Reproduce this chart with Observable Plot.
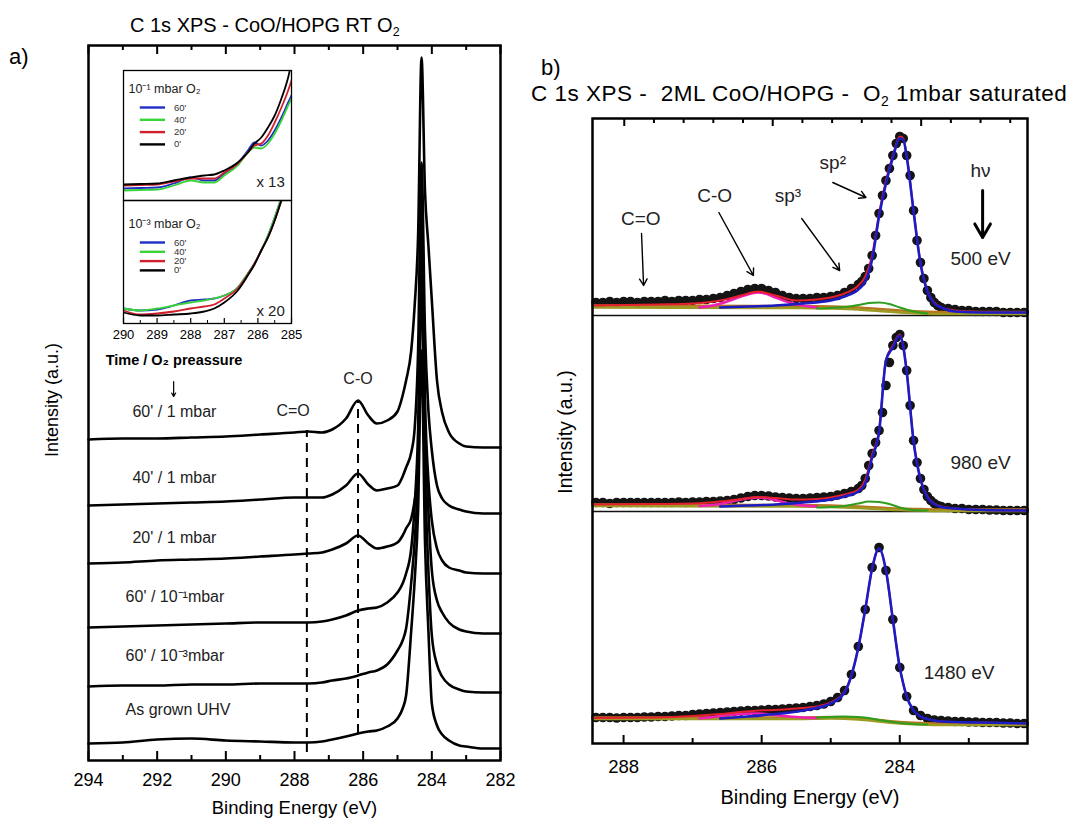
<!DOCTYPE html>
<html><head><meta charset="utf-8">
<script src="https://cdn.jsdelivr.net/npm/d3@7"></script>
<script src="https://cdn.jsdelivr.net/npm/@observablehq/plot@0.6"></script>
<style>
body{margin:0;background:#fff;}
#root{position:relative;width:1072px;height:821px;overflow:hidden;font-family:"Liberation Sans",Arial,Helvetica,sans-serif;color:#000;background:#fff;}
.abs{position:absolute;}
.lbl{position:absolute;white-space:pre;line-height:1;color:#000;}
.rot{position:absolute;white-space:nowrap;line-height:1;transform:translate(-50%,-50%) rotate(-90deg);}
sub{font-size:0.62em;vertical-align:-0.35em;line-height:0;}
</style></head><body><div id="root"></div>
<script>
// ================= DATA =================
// ---- Panel a: C 1s spectra, CoO/HOPG, RT O2 exposure (intensity, a.u.) ----
const energyA = [294, 293, 292, 291, 290, 289, 288, 287.6, 287.2, 286.9,
  286.5, 286.15, 285.85, 285.6, 285.3, 285.0, 284.85, 284.75, 284.6, 284.5,
  284.4, 284.3, 284.2, 284.1, 284.0, 283.85, 283.7, 283.5, 283.2, 283.0,
  282.5, 282.0];
const seriesA = ["60' / 1 mbar", "40' / 1 mbar", "20' / 1 mbar", "60' / 10⁻¹mbar", "60' / 10⁻³mbar", "As grown UHV"];
const a60_1mbar = [321, 322, 322, 323, 324, 326, 328, 329, 328, 331,
  342, 360, 345, 337, 340, 349, 365, 380, 410, 455,
  525, 703, 570, 515, 460, 380, 348, 328, 317, 314,
  313, 313];
const a40_1mbar = [255, 256, 257, 258, 259, 261, 263, 263, 263, 266,
  275, 287, 276, 270, 272, 275, 284, 293, 308, 332,
  410, 598, 430, 350, 310, 275, 262, 255, 251, 249,
  247, 247];
const a20_1mbar = [197, 198, 200, 201, 202, 204, 206, 207, 208, 211,
  217, 225, 217, 212, 214, 218, 225, 232, 242, 260,
  290, 560, 360, 280, 240, 212, 200, 193, 190, 188,
  187, 187];
const a60_1e1mbar = [133, 134, 135, 136, 137, 138, 138, 138, 139, 141,
  145, 150, 152, 153, 158, 168, 177, 187, 212, 255,
  330, 510, 340, 250, 190, 160, 148, 138, 131, 129,
  127, 127];
const a60_1e3mbar = [74, 75, 75, 76, 76, 77, 77, 77, 78, 80,
  82, 85, 88, 90, 96, 110, 120, 132, 178, 220,
  290, 480, 290, 190, 125, 96, 84, 76, 71, 69,
  68, 68];
const aUHV = [17, 18, 21, 22, 20, 19, 18, 18, 19, 21,
  24, 27, 29, 30, 34, 42, 52, 65, 130, 180,
  250, 410, 220, 130, 57, 35, 26, 20, 15, 14,
  12, 12];
const spectraA = [a60_1mbar, a40_1mbar, a20_1mbar, a60_1e1mbar, a60_1e3mbar, aUHV];
const markersA = [{name: "C=O", E: 287.64, lo: 8, hi: 330}, {name: "C-O", E: 286.15, lo: 27, hi: 360}];
const ticksA = [294, 292, 290, 288, 286, 284, 282];
const minorTicksA = [293, 291, 289, 287, 285, 283];

// ---- Inset: 290-285 eV zoom ----
const energyInset = [290, 289.5, 289, 288.5, 288, 287.6, 287.3, 287, 286.6, 286.3, 286.1, 285.9, 285.7, 285.5, 285.3, 285.1, 285.0];
const insetTimes = ["60'", "40'", "20'", "0'"];
const insetColors = ["#1f2ec4", "#39d439", "#d0202e", "#000000"];
// 1e-1 mbar O2 (x 13)
const up60 = [12, 12.5, 13, 17, 23, 20, 20, 27, 37, 50, 58, 55, 60, 70, 83, 98, 105];
const up40 = [10, 10.5, 11, 15, 20, 18, 18, 25, 35, 48, 53, 52, 57, 67, 80, 95, 102];
const up20 = [15, 15.5, 16, 19, 22, 22, 22, 28, 37, 48, 55, 57, 65, 78, 93, 110, 120];
const up0  = [16, 16.5, 17, 20, 23, 25, 26, 30, 38, 48, 57, 63, 73, 85, 102, 123, 138];
// 1e-3 mbar O2 (x 20)
const lo60 = [15, 13, 14, 18, 23, 24, 25, 28, 36, 50, 60, 73, 88, 106, 126, 146, 156];
const lo40 = [15, 13, 15, 18, 21, 23, 25, 28, 36, 50, 60, 73, 88, 106, 126, 146, 156];
const lo20 = [13, 9, 10, 12, 15, 17, 19, 25, 35, 49, 60, 73, 86, 103, 123, 143, 153];
const lo0  = [11, 8, 8, 9, 10, 12, 15, 21, 33, 48, 59, 73, 86, 103, 123, 143, 153];
const insetTicks = [290, 289, 288, 287, 286, 285];
const insetMinor = [289.5, 288.5, 287.5, 286.5, 285.5];

// ---- Panel b: 2ML CoO/HOPG, O2 1 mbar saturated, three photon energies ----
const photonEnergies = ["500 eV", "980 eV", "1480 eV"];
const energyB = [288.4, 288.3, 288.2, 288.1, 288.0, 287.9, 287.8, 287.7, 287.6, 287.5,
  287.4, 287.3, 287.2, 287.1, 287.0, 286.9, 286.8, 286.7, 286.6, 286.5,
  286.4, 286.3, 286.2, 286.1, 286.0, 285.9, 285.8, 285.7, 285.6, 285.5,
  285.4, 285.3, 285.2, 285.1, 285.0, 284.9, 284.8, 284.7, 284.6, 284.55,
  284.5, 284.45, 284.4, 284.35, 284.3, 284.25, 284.2, 284.15, 284.1, 284.05,
  284.0, 283.95, 283.9, 283.85, 283.8, 283.75, 283.7, 283.65, 283.6, 283.55,
  283.5, 283.45, 283.4, 283.3, 283.2, 283.1, 283.0, 282.9, 282.8, 282.7,
  282.6, 282.5, 282.4, 282.3, 282.2];
const b500 = [441, 441, 442, 441, 442, 442, 441, 442, 442, 442,
  443, 442, 443, 443, 443, 444, 444, 445, 446, 448,
  450, 452, 454, 455, 455, 453, 451, 448, 446, 445,
  445, 445, 446, 446, 447, 448, 451, 455, 459, 462,
  467, 475, 488, 508, 530, 548, 563, 575, 588, 600,
  607, 605, 588, 568, 533, 503, 481, 465, 453, 446,
  441, 438, 436, 435, 434, 433, 433, 432, 432, 432,
  432, 431, 431, 431, 431];
const b980 = [241, 241, 240, 241, 241, 241, 241, 241, 241, 241,
  241, 241, 241.5, 241, 241.5, 241.5, 242, 242, 242.5, 243,
  244, 245.5, 247, 248, 248, 247.5, 246.5, 246, 245.5, 245,
  245, 245.5, 246, 246.5, 247, 248.5, 250, 252, 255, 258,
  265, 278, 290, 301, 313, 331, 358, 381, 398, 406,
  409, 398, 373, 338, 303, 281, 265, 254, 247, 243,
  240, 238, 237, 236, 235, 235, 234, 234, 234, 233.5,
  233.5, 233, 233, 233, 233];
const energyB1480 = [288.4, 288.3, 288.2, 288.1, 288.0, 287.9, 287.8, 287.7, 287.6, 287.5,
  287.4, 287.3, 287.2, 287.1, 287.0, 286.9, 286.8, 286.7, 286.6, 286.5,
  286.4, 286.3, 286.2, 286.1, 286.0, 285.9, 285.8, 285.7, 285.6, 285.5,
  285.4, 285.3, 285.2, 285.1, 285.0, 284.9, 284.8, 284.7, 284.6, 284.5,
  284.4, 284.3, 284.2, 284.1, 284.0, 283.9, 283.8, 283.7, 283.6, 283.5,
  283.4, 283.3, 283.2, 283.1, 283.0, 282.9, 282.8, 282.7, 282.6, 282.5,
  282.4, 282.3, 282.2];
const b1480 = [26, 26, 26, 25.5, 26, 26, 26, 26.5, 26.5, 27,
  27, 27.5, 28, 28, 29, 29.5, 30, 30.5, 31, 31.5,
  32, 32.5, 33, 33, 33.5, 34, 34, 34.5, 35, 35.5,
  36, 37, 38, 39.5, 42, 46, 53, 69, 97, 134,
  176, 196, 173, 124, 76, 47, 33, 28, 25, 23.5,
  23, 22.5, 22, 22, 21.5, 21.5, 21, 21, 21, 20.5,
  20.5, 20, 20];
// fit components
const bgE = [288.45, 285.5, 285.0, 284.6, 284.3, 284.0, 283.7, 283.4, 282.15];
const bgOlive500 = [436, 435.5, 435, 434, 432.5, 431, 430, 429.5, 429.5];
const bgBrown500 = [438, 437.5, 437, 436, 434.5, 433, 432, 431.5, 431.5];
const bgOlive980 = [237.5, 237, 236.5, 235.5, 234.5, 233.5, 233, 232.5, 232.5];
const bgBrown980 = [239, 238.5, 238, 237, 236, 235, 234.5, 234, 234];
const bgOlive1480 = [24.5, 24.5, 25, 24, 22, 20, 19, 18.5, 18.5];
const bgBrown1480 = [26, 26, 26.5, 25.5, 23.5, 21.5, 20.5, 20, 20];
const coE = [286.9, 286.7, 286.5, 286.3, 286.15, 286.05, 285.95, 285.8, 285.6, 285.4, 285.2];
const co500 = [436, 438, 442, 447, 450, 451, 450, 446, 441, 438, 436];
const co980 = [237.5, 238.5, 241, 244, 245.5, 246, 245.5, 243.5, 240, 238, 237];
const co1480 = [25, 26.5, 28.5, 29.5, 30, 30, 29.5, 28.5, 27, 26, 25.5];
const sp3E = [285.2, 285.0, 284.8, 284.6, 284.45, 284.3, 284.15, 284.0, 283.8, 283.6];
const sp3_500 = [435, 435.5, 436.5, 438.5, 440.5, 441, 439.5, 436, 432, 430];
const sp3_980 = [236, 236.5, 237.5, 240, 242, 241.5, 239.5, 236, 233.5, 233];
const sp3_1480 = [26, 26.5, 27, 26.5, 25.5, 23.5, 22, 20.5, 19.5, 19];
const sp2E = [286.6, 286.2, 285.8, 285.4, 285.0, 284.8, 284.6, 284.5, 284.4, 284.3,
  284.2, 284.1, 284.0, 283.95, 283.9, 283.8, 283.7, 283.6, 283.5, 283.4,
  283.2, 282.8, 282.15];
const sp2_500 = [436, 437, 438, 440, 443, 447, 454, 462, 484, 527,
  560, 586, 605, 604, 587, 532, 480, 452, 440, 436,
  432, 431, 431];
const sp2_980 = [237, 238, 239, 241, 244, 247, 252, 260, 286, 311,
  383, 396, 408, 397, 372, 302, 264, 246, 239.5, 236.5,
  235, 233.5, 233];
const sp2_1480 = [25, 27, 29.5, 33, 40, 51, 96, 134, 175, 195,
  173, 124, 76, 60, 47, 33, 27, 24.5, 23, 22,
  21.5, 21, 20];
const envE = [288.45, 287.5, 287.0, 286.6, 286.3, 286.05, 285.8, 285.5, 285.2, 285.0,
  284.8, 284.6, 284.5, 284.4, 284.3, 284.2, 284.1, 284.0, 283.95, 283.9,
  283.8, 283.7, 283.6, 283.5, 283.4, 283.2, 282.8, 282.15];
const env500 = [438, 439, 440, 443, 448, 452, 448, 443, 444, 446,
  450, 458, 467, 488, 530, 563, 588, 607, 605, 588,
  533, 481, 453, 441, 436, 433, 431.5, 431];
const env980 = [239, 239.5, 240, 242, 244.5, 246.5, 245.5, 244, 244.5, 246,
  249, 254, 264, 289, 313, 384, 398, 409, 398, 373,
  303, 265, 247, 240, 237, 235, 233.5, 233];
const env1480 = [25.5, 26, 27.5, 29.5, 31.5, 33, 33.5, 35, 37, 41,
  52, 96, 134, 175, 195, 173, 124, 76, 60, 47,
  33, 27, 24.5, 23, 22, 21.5, 21, 20];
const ticksB = [288, 286, 284];
const minorTicksB = [287, 285, 283];
const topTicksB = [287.99, 285.84, 283.69];
const topMinorB = [287.56, 287.13, 286.70, 286.27, 285.41, 284.98, 284.55, 284.12, 283.26, 282.83, 282.40];

// ================= DRAWING =================
const FONT = '"Liberation Sans", Arial, Helvetica, sans-serif';
const root = document.getElementById("root");
function place(el, left, top) {
  const d = document.createElement("div");
  d.className = "abs"; d.style.left = left + "px"; d.style.top = top + "px";
  d.appendChild(el); root.appendChild(d);
}
function label(html, left, top, size, extra) {
  const d = document.createElement("div");
  d.className = "lbl"; d.innerHTML = html;
  d.style.left = left + "px"; d.style.top = top + "px"; d.style.fontSize = size + "px";
  if (extra) Object.assign(d.style, extra);
  root.appendChild(d);
}
function rotLabel(text, cx, cy, size) {
  const d = document.createElement("div");
  d.className = "rot"; d.textContent = text;
  d.style.left = cx + "px"; d.style.top = cy + "px"; d.style.fontSize = size + "px";
  root.appendChild(d);
}
const longForm = (E, arrays, keys) => arrays.flatMap((arr, k) => arr.map((v, i) => ({E: E[i], I: v, k: keys[k]})));

// ---- Panel a ----
const flatA = longForm(energyA, spectraA, seriesA);
const plotA = Plot.plot({
  width: 520, height: 821,
  marginTop: 45, marginRight: 20, marginBottom: 61, marginLeft: 88,
  style: {fontFamily: FONT, fontSize: "18px", background: "transparent", overflow: "visible", color: "#000"},
  x: {domain: [294, 282]},
  y: {domain: [0, 715], axis: null},
  marks: [
    Plot.ruleX(markersA, {x: "E", y1: "lo", y2: "hi", stroke: "#000", strokeWidth: 2, strokeDasharray: "9,6"}),
    Plot.line(flatA, {x: "E", y: "I", z: "k", stroke: "#000", strokeWidth: 2.6, curve: "monotone-x"}),
    Plot.ruleX(ticksA, {x: d => d, y1: 0, y2: 9, stroke: "#000", strokeWidth: 2}),
    Plot.ruleX(minorTicksA, {x: d => d, y1: 0, y2: 5, stroke: "#000", strokeWidth: 2}),
    Plot.ruleX(ticksA, {x: d => d, y1: 715, y2: 706, stroke: "#000", strokeWidth: 2}),
    Plot.ruleX(minorTicksA, {x: d => d, y1: 715, y2: 710, stroke: "#000", strokeWidth: 2}),
    Plot.frame({stroke: "#000", strokeWidth: 2.5}),
    Plot.axisX(ticksA, {tickSize: 0, tickPadding: 13, fontSize: 18, label: null, tickFormat: d => String(d)}),
    Plot.text(["Binding Energy (eV)"], {frameAnchor: "bottom", dy: 53, text: d => d, fontSize: 18.5}),
    Plot.text(seriesA, {x: (d, i) => i < 3 ? 292.72 : 292.92, y: (d, i) => [349, 283, 223, 164, 105, 51][i], text: d => d, textAnchor: "start", fontSize: 16, fill: "#222"}),
    Plot.text(markersA, {x: (d, i) => i === 0 ? 288.04 : 286.15, y: (d, i) => i === 0 ? 350 : 382, text: "name", fontSize: 16, fill: "#222"}),
    Plot.text(["Time / O₂ preassure"], {x: 293.5, y: 400, text: d => d, textAnchor: "start", fontSize: 14.5, fontWeight: "bold"}),
    Plot.arrow([0], {x1: 291.52, y1: 379, x2: 291.52, y2: 364, stroke: "#000", strokeWidth: 1.2, headLength: 5})
  ]
});
place(plotA, 0, 0);

// ---- Inset ----
function insetPlot(series, domMax, legendTitle, legendTop, legendStep, factor, factorY, withAxis) {
  const flat = longForm(energyInset, series, insetTimes);
  const marks = [
    Plot.line(flat, {x: "E", y: "I", z: "k", stroke: d => insetColors[insetTimes.indexOf(d.k)], strokeWidth: 1.8, curve: "monotone-x", clip: true}),
    Plot.frame({stroke: "#000", strokeWidth: 1.3}),
    Plot.text([legendTitle], {x: 289.85, y: legendTop + 19, text: d => d, textAnchor: "start", fontSize: 12.5, fill: "#222"}),
    Plot.ruleY(insetTimes, {x1: 289.5, x2: 288.75, y: (d, i) => legendTop - i * legendStep, stroke: (d, i) => insetColors[i], strokeWidth: 2.4}),
    Plot.text(insetTimes, {x: 288.5, y: (d, i) => legendTop - i * legendStep, text: d => d, textAnchor: "start", fontSize: 9.5, fill: "#333"}),
    Plot.text([factor], {x: 285.2, y: factorY, text: d => d, textAnchor: "end", fontSize: 15, fill: "#222"})
  ];
  if (withAxis) {
    marks.push(
      Plot.ruleX(insetTicks, {x: d => d, y1: 0, y2: 5, stroke: "#000", strokeWidth: 1.2}),
      Plot.ruleX(insetMinor, {x: d => d, y1: 0, y2: 3, stroke: "#000", strokeWidth: 1}),
      Plot.axisX(insetTicks, {tickSize: 0, tickPadding: 6, fontSize: 13, label: null, tickFormat: d => String(d)})
    );
  }
  return Plot.plot({
    width: withAxis ? 194 : 170, height: withAxis ? 146 : 132,
    marginTop: 1, marginLeft: withAxis ? 12 : 1, marginRight: withAxis ? 14 : 1, marginBottom: withAxis ? 22 : 1,
    style: {fontFamily: FONT, fontSize: "12px", background: "transparent", overflow: "visible", color: "#000"},
    x: {domain: [290, 285], axis: withAxis ? undefined : null},
    y: {domain: [0, domMax], axis: null},
    marks
  });
}
// white backing of the inset
const back = document.createElement("div");
back.className = "abs";
Object.assign(back.style, {left: "123px", top: "70px", width: "168px", height: "253px", background: "#fff"});
root.appendChild(back);
place(insetPlot([up60, up40, up20, up0], 130, "10⁻¹ mbar O₂", 93, 12.3, "x 13", 18, false), 122, 69);
place(insetPlot([lo60, lo40, lo20, lo0], 123, "10⁻³ mbar O₂", 81, 9.3, "x 20", 12, true), 111, 199);

// ---- Panel b ----
const dotsB = [
  ...energyB.map((E, i) => ({E, I: b500[i]})),
  ...energyB.map((E, i) => ({E, I: b980[i]})),
  ...energyB1480.map((E, i) => ({E, I: b1480[i]}))
];
const brownB = longForm(bgE, [bgBrown500, bgBrown980, bgBrown1480], photonEnergies);
const oliveB = longForm(bgE, [bgOlive500, bgOlive980, bgOlive1480], photonEnergies);
const coB = longForm(coE, [co500, co980, co1480], photonEnergies);
const sp3B = longForm(sp3E, [sp3_500, sp3_980, sp3_1480], photonEnergies);
const sp2B = longForm(sp2E, [sp2_500, sp2_980, sp2_1480], photonEnergies);
const envB = longForm(envE, [env500, env980, env1480], photonEnergies);
const lineOpts = {x: "E", y: "I", z: "k", curve: "monotone-x"};
const plotB = Plot.plot({
  width: 552, height: 821,
  marginTop: 118, marginRight: 45, marginBottom: 78, marginLeft: 72,
  style: {fontFamily: FONT, fontSize: "18px", background: "transparent", overflow: "visible", color: "#000"},
  x: {domain: [288.45, 282.15]},
  y: {domain: [0, 625], axis: null},
  marks: [
    Plot.ruleY([428, 232], {stroke: "#111", strokeWidth: 1.6}),
    Plot.dot(dotsB, {x: "E", y: "I", r: 4.8, fill: "#141414", stroke: "none"}),
    Plot.line(brownB, {...lineOpts, stroke: "#b8731f", strokeWidth: 2.4}),
    Plot.line(oliveB, {...lineOpts, stroke: "#9c9a22", strokeWidth: 2.6}),
    Plot.line(coB, {...lineOpts, stroke: "#f01fb4", strokeWidth: 2.6}),
    Plot.line(sp3B, {...lineOpts, stroke: "#2e9e1e", strokeWidth: 2}),
    Plot.line(envB, {...lineOpts, stroke: "#e3202c", strokeWidth: 2}),
    Plot.line(sp2B, {...lineOpts, stroke: "#1c1cc4", strokeWidth: 2.6}),
    Plot.ruleX(ticksB, {x: d => d, y1: 0, y2: 8, stroke: "#000", strokeWidth: 2}),
    Plot.ruleX(minorTicksB, {x: d => d, y1: 0, y2: 5, stroke: "#000", strokeWidth: 2}),
    Plot.ruleX(topTicksB, {x: d => d, y1: 625, y2: 617, stroke: "#000", strokeWidth: 2}),
    Plot.ruleX(topMinorB, {x: d => d, y1: 625, y2: 620, stroke: "#000", strokeWidth: 2}),
    Plot.frame({stroke: "#000", strokeWidth: 2.5}),
    Plot.axisX(ticksB, {tickSize: 0, tickPadding: 16, fontSize: 18.5, label: null, tickFormat: d => String(d)}),
    Plot.text(["Binding Energy (eV)"], {frameAnchor: "bottom", dy: 60, text: d => d, fontSize: 20}),
    Plot.text([
      {t: "C=O", E: 287.75, I: 525}, {t: "C-O", E: 286.68, I: 548},
      {t: "sp³", E: 285.62, I: 548}, {t: "sp²", E: 284.97, I: 581},
      {t: "hν", E: 282.83, I: 573}
    ].concat(photonEnergies.map((p, i) => ({t: p, E: i === 2 ? 283.14 : 282.83, I: [485, 281, 71][i]}))),
      {x: "E", y: "I", text: "t", fontSize: 19, fill: "#222"}),
    Plot.arrow([
      {x1: 287.74, y1: 510, x2: 287.71, y2: 458},
      {x1: 286.62, y1: 531, x2: 286.12, y2: 468},
      {x1: 285.42, y1: 525, x2: 284.87, y2: 473},
      {x1: 284.97, y1: 561, x2: 284.49, y2: 546}
    ], {x1: "x1", y1: "y1", x2: "x2", y2: "y2", stroke: "#000", strokeWidth: 1.4, headLength: 8}),
    Plot.arrow([0], {x1: 282.8, y1: 553, x2: 282.8, y2: 506, stroke: "#000", strokeWidth: 3, headLength: 10})
  ]
});
place(plotB, 520, 0);

// ---- Titles and labels ----
label('C 1s XPS - CoO/HOPG RT O<sub>2</sub>', 130, 15, 20);
label('C 1s XPS -  2ML CoO/HOPG -  O<sub>2</sub> 1mbar saturated', 531, 83, 22.5, {letterSpacing: "0.5px"});
label('a)', 9, 46, 22);
label('b)', 541, 57, 22);
rotLabel('Intensity (a.u.)', 52, 400, 18);
rotLabel('Intensity (a.u.)', 566, 432, 19.5);
</script></body></html>
